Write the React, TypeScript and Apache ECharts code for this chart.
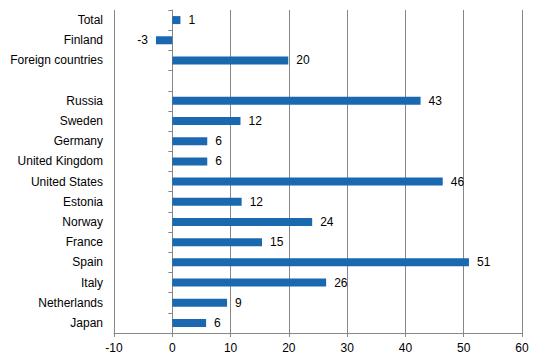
import React, { useEffect, useRef } from "react";
import * as echarts from "echarts";

const categories = [
  "Total",
  "Finland",
  "Foreign countries",
  "",
  "Russia",
  "Sweden",
  "Germany",
  "United Kingdom",
  "United States",
  "Estonia",
  "Norway",
  "France",
  "Spain",
  "Italy",
  "Netherlands",
  "Japan",
];

const values: (number | null)[] = [
  1.4, -2.8, 19.9, null, 42.6, 11.7, 6.0, 6.0, 46.4, 11.9, 24.0, 15.4, 50.9, 26.4, 9.4, 5.8,
];

const xTicks = { min: -10, max: 60, interval: 10 };

const FONT = "Liberation Sans, Arial, sans-serif";
const GRAY = "#878787";
const BAR = "#1a68b0";

export default function App() {
  const ref = useRef<HTMLDivElement>(null);
  useEffect(() => {
    if (!ref.current) return;
    const chart = echarts.init(ref.current, null, { renderer: "svg" });
    const cats = [...categories].reverse();
    const vals = [...values].reverse();
    chart.setOption({
      animation: false,
      grid: { left: 114, right: 11, top: 10, bottom: 30, containLabel: false },
      xAxis: {
        type: "value",
        min: xTicks.min,
        max: xTicks.max,
        interval: xTicks.interval,
        axisLine: { show: true, onZero: false, lineStyle: { color: GRAY, width: 1 } },
        axisTick: { show: true, length: 4, lineStyle: { color: GRAY } },
        axisLabel: { color: "#000", fontFamily: FONT, fontSize: 12, margin: 9 },
        splitLine: { show: true, lineStyle: { color: GRAY, width: 1 } },
      },
      yAxis: [
        {
          type: "category",
          data: cats,
          position: "left",
          axisLine: { show: false, onZero: false },
          axisTick: { show: false },
          axisLabel: { color: "#000", fontFamily: FONT, fontSize: 12, margin: 11 },
          splitLine: { show: false },
        },
        {
          type: "category",
          data: cats,
          position: "left",
          axisLine: { show: true, onZero: true, lineStyle: { color: GRAY, width: 1 } },
          axisTick: { show: true, length: 4, lineStyle: { color: GRAY } },
          axisLabel: { show: false },
          splitLine: { show: false },
        },
      ],
      series: [
        {
          type: "bar",
          yAxisIndex: 0,
          data: vals.map((v) =>
            v === null
              ? null
              : {
                  value: v,
                  label: { position: v < 0 ? "left" : "right" },
                }
          ),
          barWidth: 8,
          itemStyle: { color: BAR },
          label: {
            show: true,
            distance: 8,
            color: "#000",
            fontFamily: FONT,
            fontSize: 12,
            formatter: (p: any) => String(Math.round(p.value)),
          },
        },
      ],
    });
    return () => chart.dispose();
  }, []);
  return (
    <div
      ref={ref}
      style={{ position: "absolute", left: 0, top: 0, width: 533, height: 363 }}
    />
  );
}
